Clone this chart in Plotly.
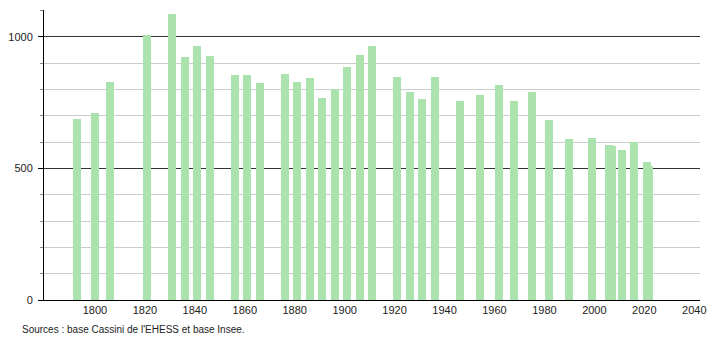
import plotly.graph_objects as go

years = [1793, 1800, 1806, 1821, 1831, 1836, 1841, 1846, 1856, 1861, 1866,
         1876, 1881, 1886, 1891, 1896, 1901, 1906, 1911, 1921, 1926, 1931,
         1936, 1946, 1954, 1962, 1968, 1975, 1982, 1990, 1999, 2006, 2007,
         2011, 2016, 2021, 2022]
population = [689, 711, 830, 1006, 1085, 924, 967, 929, 855, 855, 825,
              860, 829, 843, 769, 802, 886, 930, 966, 848, 791, 765,
              848, 757, 779, 817, 757, 791, 685, 610, 617, 590, 585,
              571, 600, 524, 511]
x_ticks = [1800, 1820, 1840, 1860, 1880, 1900, 1920, 1940, 1960, 1980, 2000, 2020, 2040]
source_text = "Sources : base Cassini de l'EHESS et base Insee."

FONT = "Liberation Sans, Arial, sans-serif"

fig = go.Figure()
fig.add_trace(go.Bar(
    x=years, y=population, width=3.2,
    marker=dict(color="rgb(172,226,174)", line=dict(width=0)),
    hoverinfo="x+y",
))

fig.update_layout(
    width=710, height=340,
    margin=dict(l=44, r=10, t=10, b=40, autoexpand=False),
    paper_bgcolor="white", plot_bgcolor="white",
    showlegend=False,
    font=dict(family=FONT, size=11, color="#222"),
    bargap=0,
    xaxis=dict(
        range=[1779.6, 2042.3], automargin=False,
        tickmode="array", tickvals=x_ticks,
        showgrid=False, zeroline=False,
        showline=True, linecolor="black", linewidth=1,
        ticks="", tickfont=dict(size=11, color="#222"),
    ),
    yaxis=dict(
        range=[0, 1102], automargin=False,
        tickmode="linear", tick0=0, dtick=500,
        showgrid=True, gridcolor="#333", gridwidth=1,
        zeroline=False,
        showline=True, linecolor="black", linewidth=1,
        ticks="outside", ticklen=5, tickcolor="black", tickwidth=1,
        tickfont=dict(size=11, color="#222"),
        ticklabelstandoff=3,
        minor=dict(tick0=0, dtick=100, showgrid=True, gridcolor="#cccccc",
                   gridwidth=1, ticks="outside", ticklen=3, tickcolor="#888"),
    ),
)

fig.add_annotation(
    text=source_text, xref="paper", yref="paper",
    x=(20 - 44) / 656, y=-(329 - 300) / 290,
    xanchor="left", yanchor="middle", showarrow=False,
    font=dict(family=FONT, size=10, color="#222"),
)

fig.write_html("out.html")
